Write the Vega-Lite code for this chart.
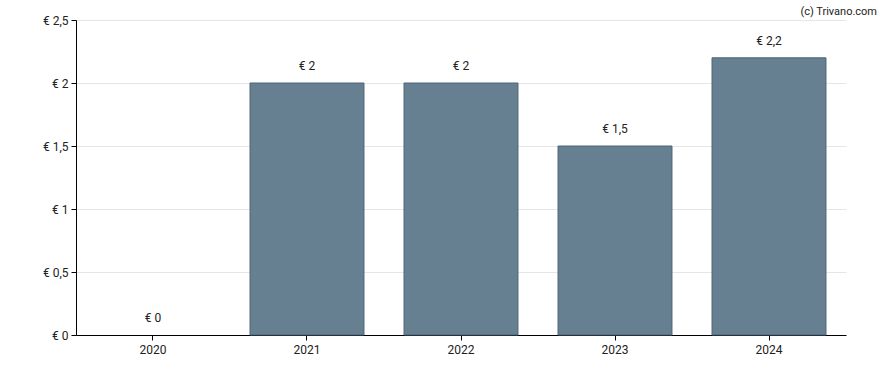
{
  "$schema": "https://vega.github.io/schema/vega-lite/v6.json",
  "width": 770,
  "height": 315,
  "autosize": {"type": "none"},
  "padding": {"left": 76, "top": 20, "right": 42, "bottom": 35},
  "background": "white",
  "title": {"text": "(c) Trivano.com", "anchor": "end", "frame": "group", "dx": 31, "offset": -3, "fontSize": 11, "font": "Roboto", "fontWeight": "normal", "color": "#222222"},
  "config": {"view": {"stroke": null}, "font": "Roboto"},
  "data": {"values": [
    {"year": "2020", "value": 0},
    {"year": "2021", "value": 2},
    {"year": "2022", "value": 2},
    {"year": "2023", "value": 1.5},
    {"year": "2024", "value": 2.2}
  ]},
  "encoding": {
    "x": {"field": "year", "type": "nominal", "title": null,
      "scale": {"paddingInner": 0.26, "paddingOuter": 0.13},
      "axis": {"labelAngle": 0, "domainColor": "#000000", "tickColor": "#000000", "tickSize": 5, "labelFontSize": 12, "labelColor": "#222222", "labelPadding": 4, "grid": false}},
    "y": {"field": "value", "type": "quantitative", "title": null,
      "scale": {"domain": [0, 2.5]},
      "axis": {"values": [0, 0.5, 1, 1.5, 2, 2.5], "labelExpr": "'€ ' + replace(format(datum.value, '.1~f'), '.', ',')", "domainColor": "#000000", "tickColor": "#000000", "tickSize": 5, "labelFontSize": 12, "labelColor": "#222222", "labelPadding": 3, "gridColor": "#e6e6e6", "grid": true}}
  },
  "layer": [
    {"mark": {"type": "bar", "color": "#667f91", "stroke": "#4d6577", "strokeWidth": 1},
     "encoding": {"strokeOpacity": {"condition": {"test": "datum.value == 0", "value": 0}, "value": 1}}},
    {"mark": {"type": "text", "dy": -17, "fontSize": 12, "color": "#222222", "font": "Roboto"},
     "encoding": {"text": {"field": "label"}},
     "transform": [{"calculate": "'€ ' + replace(format(datum.value, '.1~f'), '.', ',')", "as": "label"}]}
  ]
}
